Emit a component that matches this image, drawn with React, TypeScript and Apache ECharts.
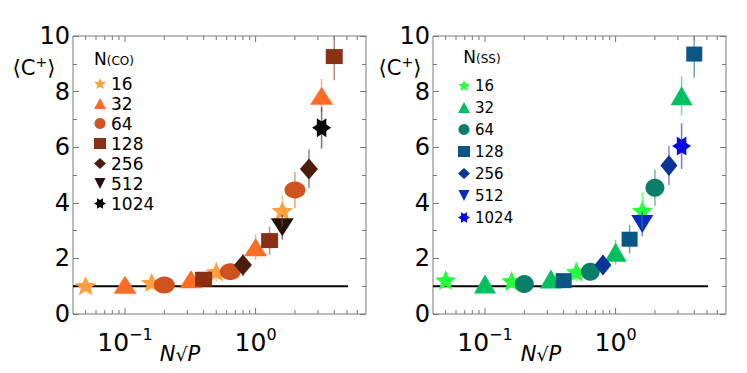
import { useEffect, useRef } from 'react';
import * as echarts from 'echarts';

const FONT = 'DejaVu Sans';

// series labels (N values)
const nLabels = ['16', '32', '64', '128', '256', '512', '1024'];

// x values (N sqrt(P)) per N
const xByN = [
  [0.05, 0.16, 0.5, 1.6],
  [0.1, 0.32, 1.0, 3.2],
  [0.2, 0.64, 2.0],
  [0.4, 1.28, 4.0],
  [0.8, 2.56],
  [1.6],
  [3.2],
];

// Left panel N(CO)
const coY = [
  [1.02, 1.13, 1.52, 3.72],
  [1.05, 1.25, 2.4, 7.85],
  [1.04, 1.52, 4.46],
  [1.25, 2.64, 9.26],
  [1.76, 5.22],
  [3.12],
  [6.7],
];
const coErr = [
  [0.12, 0.15, 0.35, 0.58],
  [0.12, 0.2, 0.45, 0.6],
  [0.12, 0.25, 0.65],
  [0.2, 0.5, 0.85],
  [0.4, 0.7],
  [0.45],
  [0.75],
];

// Right panel N(SS)
const ssY = [
  [1.22, 1.19, 1.52, 3.72],
  [1.08, 1.26, 2.22, 7.85],
  [1.08, 1.52, 4.54],
  [1.2, 2.69, 9.35],
  [1.76, 5.34],
  [3.24],
  [6.04],
];
const ssErr = [
  [0.12, 0.15, 0.35, 0.66],
  [0.12, 0.2, 0.45, 0.7],
  [0.12, 0.25, 0.65],
  [0.2, 0.52, 0.85],
  [0.35, 0.7],
  [0.45],
  [0.82],
];

const coColors = ['#FFA040', '#FF6C26', '#D0521F', '#8A3014', '#4A1D0D', '#26110A', '#0A0A0A'];
const ssColors = ['#26FF3C', '#00C060', '#0A7E6A', '#0A5684', '#0A3598', '#0A28C2', '#0A0AE4'];

// reference line <C+> = 1
const refLineX = [0.04, 5.1];
const refLineY = [1, 1];

// axis ranges / ticks
const xRange = [0.04, 7];
const yRange = [0, 10];
const xTickValues = [
  0.05, 0.06, 0.07, 0.08, 0.09, 0.1,
  0.2, 0.3, 0.4, 0.5, 0.6, 0.7, 0.8, 0.9, 1,
  2, 3, 4, 5, 6,
];

function starPath(n: number, inner: number, startDeg: number): string {
  const pts: string[] = [];
  for (let i = 0; i < 2 * n; i++) {
    const a = ((startDeg + (i * 180) / n) * Math.PI) / 180;
    const r = i % 2 === 0 ? 1 : inner;
    pts.push(`${(r * Math.cos(a)).toFixed(4)},${(r * Math.sin(a)).toFixed(4)}`);
  }
  return 'path://M' + pts.join(' L') + ' Z';
}

const STAR5 = starPath(5, 0.45, -90);
const HEXA = starPath(6, 0.577, 0);
const TRI_DOWN = 'path://M0,0 L2,0 L1,2 Z';
const symbols = [STAR5, 'triangle', 'circle', 'rect', 'diamond', TRI_DOWN, HEXA];
const coSizes = [[22, 19], [23, 18], [21, 17], [17, 15], [18, 21], [23, 18], [19, 19]];
const ssSizes = [[21, 20], [22, 19], [19, 18], [16, 15], [17, 21], [22, 18], [19, 19]];

function isPow10(v: number) {
  const l = Math.log10(v);
  return Math.abs(l - Math.round(l)) < 1e-6;
}

export default function App() {
  const ref = useRef<HTMLDivElement>(null);
  useEffect(() => {
    if (!ref.current) return;
    const chart = echarts.init(ref.current, undefined, { renderer: 'svg' });

    const buildPanel = (gi: number, prefix: string, ys: number[][], errs: number[][], colors: string[], sizes: number[][]) => {
      const s: any[] = [];
      s.push({
        type: 'line',
        xAxisIndex: gi,
        yAxisIndex: gi * 2,
        data: refLineX.map((x, i) => [x, refLineY[i]]),
        symbol: 'none',
        lineStyle: { color: '#000', width: 2 },
        z: 1,
        silent: true,
      });
      nLabels.forEach((n, i) => {
        s.push({
          type: 'scatter',
          name: `${prefix}-${n}`,
          xAxisIndex: gi,
          yAxisIndex: gi * 2,
          symbol: symbols[i],
          symbolSize: sizes[i],
          itemStyle: { color: colors[i], opacity: 1 },
          data: xByN[i].map((x, j) => [x, ys[i][j]]),
          z: 3,
        });
      });
      nLabels.forEach((n, i) => {
        s.push({
          type: 'custom',
          xAxisIndex: gi,
          yAxisIndex: gi * 2,
          clip: true,
          silent: true,
          z: 4,
          encode: { x: 0, y: 1 },
          data: xByN[i].map((x, j) => [x, ys[i][j], errs[i][j]]),
          renderItem: (params: any, api: any) => {
            const x = api.value(0);
            const y = api.value(1);
            const e = api.value(2);
            const p1 = api.coord([x, y - e]);
            const p2 = api.coord([x, y + e]);
            return {
              type: 'line',
              shape: { x1: p1[0], y1: p1[1], x2: p2[0], y2: p2[1] },
              style: { stroke: colors[i], lineWidth: 1.5, opacity: 0.55 },
            };
          },
        });
      });
      s.push({
        type: 'custom',
        xAxisIndex: gi,
        yAxisIndex: gi * 2,
        silent: true,
        z: 5,
        encode: { x: 0, y: 1 },
        data: xTickValues.map((v) => [v, yRange[0]]),
        renderItem: (params: any, api: any) => {
          const v = api.value(0);
          const b = api.coord([v, yRange[0]]);
          const t = api.coord([v, yRange[1]]);
          const len = isPow10(v) ? 6 : 4;
          return {
            type: 'group',
            children: [
              { type: 'line', shape: { x1: b[0], y1: b[1], x2: b[0], y2: b[1] - len }, style: { stroke: '#777', lineWidth: 1 } },
              { type: 'line', shape: { x1: t[0], y1: t[1], x2: t[0], y2: t[1] + len }, style: { stroke: '#777', lineWidth: 1 } },
            ],
          };
        },
      });
      return s;
    };

    const xAxisFor = (gi: number) => ({
      gridIndex: gi,
      type: 'log',
      logBase: 10,
      min: xRange[0],
      max: xRange[1],
      axisLine: { show: false },
      axisTick: { show: false },
      splitLine: { show: false },
      minorTick: { show: false },
      axisLabel: {
        margin: 12,
        color: '#000',
        fontFamily: FONT,
        formatter: (v: number) => {
          if (!isPow10(v)) return '';
          const e = Math.round(Math.log10(v));
          return `{b|10}{s|${e < 0 ? '\u2212' + -e : e}}`;
        },
        rich: {
          b: { fontSize: 25, fontFamily: FONT, color: '#000' },
          s: { fontSize: 16, fontFamily: FONT, color: '#000', padding: [0, 0, 16, 0] },
        },
      },
    });

    const yAxisFor = (gi: number, pos: 'left' | 'right') => ({
      gridIndex: gi,
      type: 'value',
      position: pos,
      min: yRange[0],
      max: yRange[1],
      interval: 2,
      axisLine: { show: false },
      axisTick: { show: true, inside: true, length: 6, lineStyle: { color: '#777' } },
      minorTick: { show: true, splitNumber: 2, length: 4, lineStyle: { color: '#777' } },
      splitLine: { show: false },
      axisLabel: {
        show: pos === 'left',
        fontSize: 24,
        color: '#000',
        fontFamily: FONT,
        margin: 3,
      },
    });

    const legendFor = (prefix: string, left: number, top: number, gap: number, fontSize: number) => ({
      orient: 'vertical',
      left,
      top,
      itemWidth: 12,
      itemHeight: 11,
      itemGap: gap,
      selectedMode: false,
      textStyle: { fontSize, fontFamily: FONT, color: '#000' },
      formatter: (name: string) => name.split('-')[1],
      data: nLabels.map((n, i) => ({ name: `${prefix}-${n}`, icon: symbols[i] })),
    });

    const textEl = (x: number, y: number, text: string, rich: any, fontSize: number) => ({
      type: 'text',
      x,
      y,
      silent: true,
      style: {
        text,
        rich,
        fontSize,
        fontFamily: FONT,
        fill: '#000',
        align: 'center',
        verticalAlign: 'middle',
        textAlign: 'center',
        textVerticalAlign: 'middle',
      },
    });

    const yNameRich = {
      c: { fontSize: 21, fontFamily: FONT, fill: '#000' },
      s: { fontSize: 14, fontFamily: FONT, fill: '#000', padding: [0, 0, 12, 0] },
    };
    const xNameRich = {
      i: { fontSize: 21, fontFamily: FONT, fontStyle: 'italic', fill: '#000' },
      r: { fontSize: 19, fontFamily: FONT, fill: '#000' },
    };
    const legTitleRich = {
      n: { fontSize: 17, fontFamily: FONT, fill: '#000' },
      s: { fontSize: 12, fontFamily: FONT, fill: '#000', padding: [4, 0, 0, 0] },
    };

    chart.setOption({
      animation: false,
      backgroundColor: '#fff',
      grid: [
        { left: 73, top: 36, width: 293, height: 278, show: true, borderColor: '#7a7a7a', borderWidth: 1, backgroundColor: 'transparent' },
        { left: 433, top: 36, width: 293, height: 278, show: true, borderColor: '#7a7a7a', borderWidth: 1, backgroundColor: 'transparent' },
      ],
      xAxis: [xAxisFor(0), xAxisFor(1)],
      yAxis: [yAxisFor(0, 'left'), yAxisFor(0, 'right'), yAxisFor(1, 'left'), yAxisFor(1, 'right')],
      legend: [legendFor('CO', 89, 70, 3, 17), legendFor('SS', 453, 73, 7, 15)],
      graphic: [
        textEl(34, 68, '{c|\u27E8C}{s|+}{c|\u27E9}', yNameRich, 21),
        textEl(400, 68, '{c|\u27E8C}{s|+}{c|\u27E9}', yNameRich, 21),
        textEl(180, 354, '{i|N}{r|\u221A}{i|P}', xNameRich, 21),
        textEl(541, 354, '{i|N}{r|\u221A}{i|P}', xNameRich, 21),
        textEl(114, 59, '{n|N}{s|(CO)}', legTitleRich, 17),
        textEl(482, 57, '{n|N}{s|(SS)}', legTitleRich, 17),
      ],
      series: [
        ...buildPanel(0, 'CO', coY, coErr, coColors, coSizes),
        ...buildPanel(1, 'SS', ssY, ssErr, ssColors, ssSizes),
      ],
    });
    return () => chart.dispose();
  }, []);
  return <div ref={ref} style={{ position: 'fixed', left: 0, top: 0, width: 747, height: 373 }} />;
}
